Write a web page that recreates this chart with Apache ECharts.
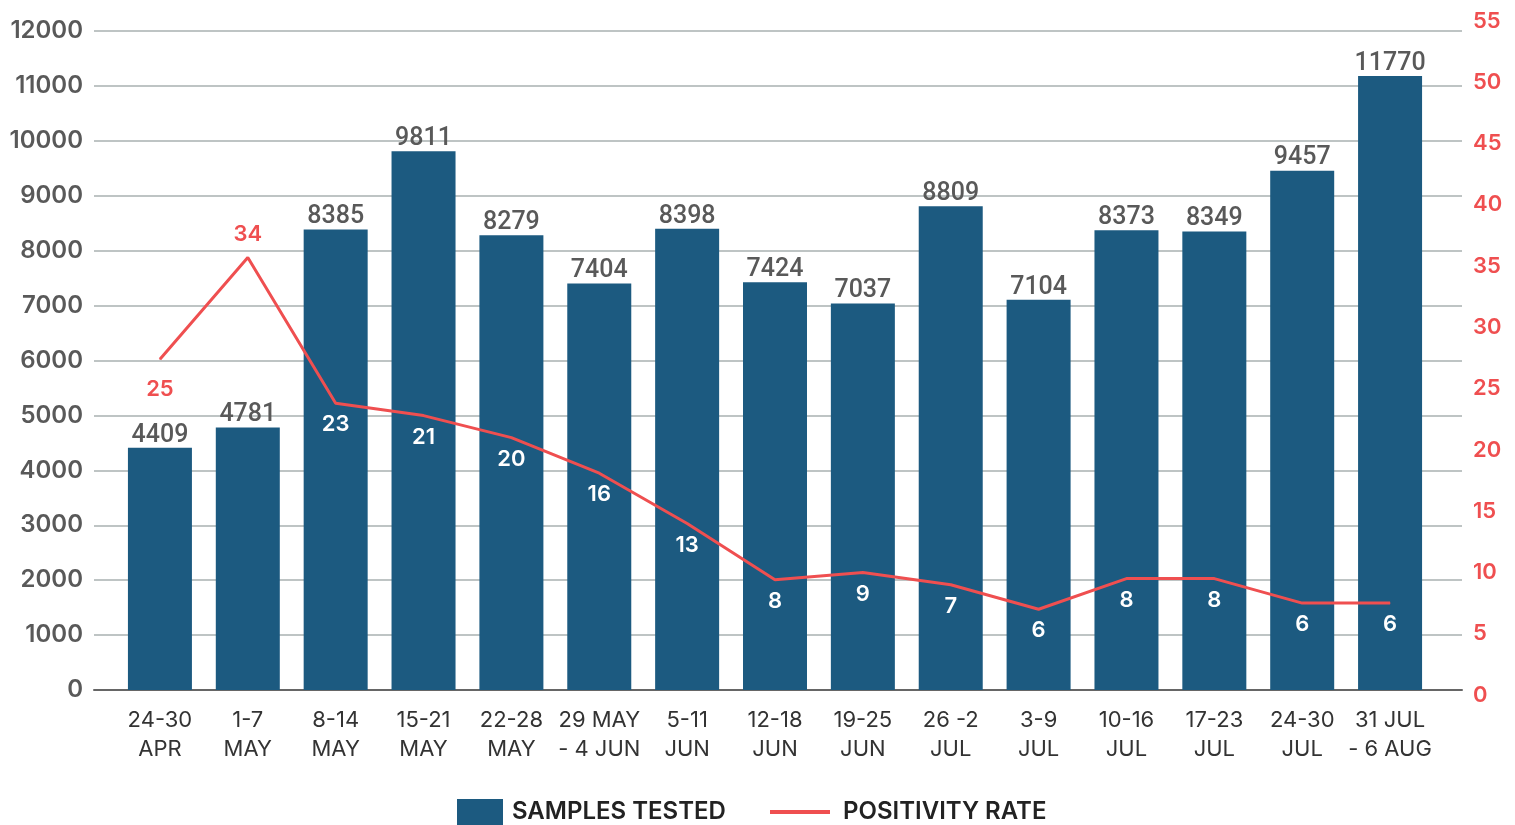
<!DOCTYPE html>
<html lang="en">
<head>
    <meta charset="UTF-8">
    <title>Samples tested and positivity rate</title>
    <script src="https://cdn.jsdelivr.net/npm/echarts@6/dist/echarts.min.js"></script>
    <style>
        html, body { margin: 0; padding: 0; background: #fff; }
        #chart { width: 1515px; height: 825px; }
    </style>
</head>
<body>
<div id="chart"></div>

<script>
    var weeks = ['24-30\nAPR', '1-7\nMAY', '8-14\nMAY', '15-21\nMAY', '22-28\nMAY', '29 MAY\n- 4 JUN', '5-11\nJUN',
        '12-18\nJUN', '19-25\nJUN', '26 -2\nJUL', '3-9\nJUL', '10-16\nJUL', '17-23\nJUL', '24-30\nJUL', '31 JUL\n- 6 AUG'];

    // numbers printed above the bars
    var samplesTested = [4409, 4781, 8385, 9811, 8279, 7404, 8398, 7424, 7037, 8809, 7104, 8373, 8349, 9457, 11770];
    // bar heights as drawn (the last bar is drawn shorter than its label)
    var barHeights = [4409, 4781, 8385, 9811, 8279, 7404, 8398, 7424, 7037, 8809, 7104, 8373, 8349, 9457, 11180];

    // positivity rate labels and where the line is drawn on the right axis
    var positivityLabels = [25, 34, 23, 21, 20, 16, 13, 8, 9, 7, 6, 8, 8, 6, 6];
    var positivityLine = [27.4, 35.7, 23.8, 22.8, 21.0, 18.1, 14.0, 9.4, 10.0, 9.0, 7.0, 9.5, 9.5, 7.5, 7.5];

    var BLUE = '#1c5a80';
    var RED = '#ef4f50';
    var GREY = '#595959';

    var chart = echarts.init(document.getElementById('chart'));

    var lineData = positivityLine.map(function (v, i) {
        var item = {value: v};
        if (i === 0) {
            item.label = {color: RED, distance: 19};
        } else if (i === 1) {
            item.label = {color: RED, position: 'top', distance: 12};
        }
        return item;
    });

    var legendText = {fontFamily: 'Inter', fontWeight: 600, fontSize: 24, color: '#222', lineHeight: 26};

    var option = {
        animation: false,
        grid: [
            {left: 94, right: 53, top: 31, bottom: 135},
            {left: 116, right: 81, top: 31, bottom: 135},
            {left: 116, right: 81, top: 21, bottom: 130}
        ],
        legend: [
            {
                data: ['SAMPLES TESTED'],
                left: 452, top: 794,
                icon: 'rect', itemWidth: 46, itemHeight: 26,
                textStyle: Object.assign({padding: [0, 0, 0, 4]}, legendText)
            },
            {
                data: ['POSITIVITY RATE'],
                left: 765, top: 794,
                icon: 'rect', itemWidth: 60, itemHeight: 4,
                textStyle: Object.assign({padding: [0, 0, 0, 8]}, legendText)
            }
        ],
        xAxis: [
            {
                gridIndex: 0, type: 'category', data: [''],
                axisLine: {show: true, lineStyle: {color: '#666', width: 2}},
                axisTick: {show: false}, axisLabel: {show: false}
            },
            {
                gridIndex: 1, type: 'category', data: weeks,
                axisLine: {show: false}, axisTick: {show: false},
                axisLabel: {
                    margin: 16, interval: 0,
                    fontFamily: 'Inter', fontSize: 22, color: '#333', lineHeight: 29
                }
            },
            {gridIndex: 2, type: 'category', data: weeks, show: false}
        ],
        yAxis: [
            {
                gridIndex: 0, type: 'value', min: 0, max: 12000, interval: 1000,
                axisLine: {show: false}, axisTick: {show: false},
                axisLabel: {
                    margin: 11, fontFamily: 'Inter', fontWeight: 600, fontSize: 24, color: GREY,
                    formatter: function (v) { return String(v); }
                },
                splitLine: {lineStyle: {color: '#a8b1b1', width: 1.5}}
            },
            {gridIndex: 1, type: 'value', min: 0, max: 12000, show: false},
            {
                gridIndex: 2, type: 'value', position: 'right', min: 0, max: 55, interval: 5,
                axisLine: {show: false}, axisTick: {show: false}, splitLine: {show: false},
                axisLabel: {margin: 39, fontFamily: 'Inter', fontWeight: 600, fontSize: 22, color: RED}
            }
        ],
        series: [
            {
                name: 'SAMPLES TESTED',
                type: 'bar',
                xAxisIndex: 1, yAxisIndex: 1,
                data: barHeights,
                barWidth: 64,
                itemStyle: {color: BLUE},
                label: {
                    show: true, position: 'top', distance: 0,
                    fontFamily: 'Roboto', fontWeight: 500, fontSize: 25, color: GREY,
                    formatter: function (p) { return samplesTested[p.dataIndex]; }
                }
            },
            {
                name: 'POSITIVITY RATE',
                type: 'line',
                xAxisIndex: 2, yAxisIndex: 2,
                data: lineData,
                symbol: 'circle',
                symbolSize: 1,
                showAllSymbol: true,
                lineStyle: {color: RED, width: 3},
                itemStyle: {color: RED},
                label: {
                    show: true, position: 'bottom', distance: 10,
                    fontFamily: 'Inter', fontWeight: 600, fontSize: 22, color: '#fff',
                    formatter: function (p) { return positivityLabels[p.dataIndex]; }
                }
            }
        ]
    };

    chart.setOption(option);
</script>
</body>
</html>
